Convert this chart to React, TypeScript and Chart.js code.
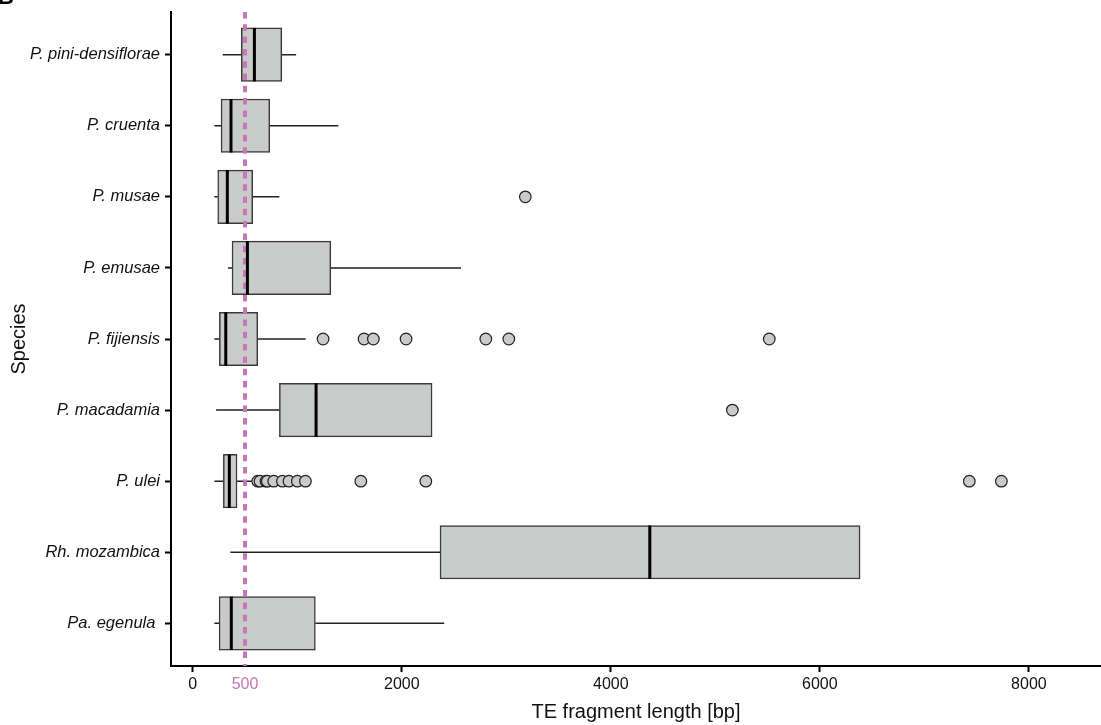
import React, { useEffect, useRef } from "react";
import { Chart, registerables } from "chart.js";

Chart.register(...registerables);

const CATEGORIES = [
  "P. pini-densiflorae",
  "P. cruenta",
  "P. musae",
  "P. emusae",
  "P. fijiensis",
  "P. macadamia",
  "P. ulei",
  "Rh. mozambica",
  "Pa. egenula ",
];
const WHISKER_LOW = [287, 207, 207, 338, 207, 223, 207, 360, 207];
const Q1 = [465, 271, 239, 376, 255, 829, 293, 2366, 252];
const MEDIAN = [590, 366, 331, 523, 316, 1180, 350, 4373, 369];
const Q3 = [852, 737, 574, 1321, 622, 2290, 424, 6385, 1173];
const WHISKER_HIGH = [989, 1393, 829, 2567, 1081, 2290, 580, 6385, 2406];
const OUTLIERS: number[][] = [
  [],
  [],
  [3182],
  [],
  [1247, 1639, 1728, 2041, 2804, 3024, 5516],
  [5163],
  [622, 644, 701, 714, 775, 858, 921, 1001, 1078, 1608, 2230, 7430, 7737],
  [],
  [],
];
const X_TICKS = [0, 500, 2000, 4000, 6000, 8000];
const REF_VALUE = 500;

const PINK = "#C776B6";
const FONT = "'Liberation Sans', Arial, Helvetica, sans-serif";

export default function App() {
  const canvasRef = useRef<HTMLCanvasElement | null>(null);

  useEffect(() => {
    document.body.style.margin = "0";
    const canvas = canvasRef.current;
    if (!canvas) return;

    const boxData = CATEGORIES.map((_, i) => ({ y: i + 1, x: [Q1[i], Q3[i]] }));
    const whiskerData: any[] = [];
    CATEGORIES.forEach((_, i) => {
      whiskerData.push({ x: WHISKER_LOW[i], y: i + 1 });
      whiskerData.push({ x: Q1[i], y: i + 1 });
      whiskerData.push({ x: null, y: null });
      whiskerData.push({ x: Q3[i], y: i + 1 });
      whiskerData.push({ x: WHISKER_HIGH[i], y: i + 1 });
      whiskerData.push({ x: null, y: null });
    });
    const outlierData: any[] = [];
    OUTLIERS.forEach((arr, i) => arr.forEach((v) => outlierData.push({ x: v, y: i + 1 })));

    const overlay = {
      id: "boxOverlay",
      afterDatasetsDraw(chart: any) {
        const ctx = chart.ctx;
        const xs = chart.scales.x;
        const { top, bottom } = chart.chartArea;
        ctx.save();
        const px = xs.getPixelForValue(REF_VALUE);
        ctx.strokeStyle = PINK;
        ctx.lineWidth = 4;
        ctx.setLineDash([6.5, 5.8]);
        ctx.beginPath();
        ctx.moveTo(px, top);
        ctx.lineTo(px, bottom);
        ctx.stroke();
        ctx.setLineDash([]);
        const meta = chart.getDatasetMeta(0);
        ctx.strokeStyle = "#000";
        ctx.lineWidth = 3;
        meta.data.forEach((el: any, i: number) => {
          const mx = xs.getPixelForValue(MEDIAN[i]);
          const h = el.height;
          ctx.beginPath();
          ctx.moveTo(mx, el.y - h / 2);
          ctx.lineTo(mx, el.y + h / 2);
          ctx.stroke();
        });
        ctx.restore();
      },
      afterDraw(chart: any) {
        const ctx = chart.ctx;
        ctx.save();
        ctx.fillStyle = "#000";
        ctx.font = `bold 22px ${FONT}`;
        ctx.textBaseline = "alphabetic";
        ctx.fillText("B", -2, 4);
        ctx.restore();
      },
    };

    const chart = new Chart(canvas, {
      type: "bar",
      data: {
        datasets: [
          {
            type: "bar",
            data: boxData as any,
            backgroundColor: "#C9CBCA",
            borderColor: "#3a3a3a",
            borderWidth: 1.5,
            borderSkipped: false,
            barThickness: 53.5,
            order: 2,
          } as any,
          {
            type: "line",
            data: whiskerData,
            borderColor: "#222",
            borderWidth: 1.5,
            pointRadius: 0,
            spanGaps: false,
            fill: false,
            order: 3,
          } as any,
          {
            type: "scatter",
            data: outlierData,
            backgroundColor: "#C9CBCA",
            borderColor: "#222",
            borderWidth: 1.2,
            pointRadius: 5.8,
            order: 1,
          } as any,
        ],
      },
      options: {
        indexAxis: "y",
        responsive: false,
        animation: false,
        devicePixelRatio: 1,
        layout: { autoPadding: false, padding: { top: 12, right: 0, left: 0, bottom: 0 } },
        plugins: {
          legend: { display: false },
          tooltip: { enabled: false },
        },
        scales: {
          x: {
            type: "linear",
            position: "bottom",
            offset: false,
            min: -208,
            max: 8690,
            afterBuildTicks: (scale: any) => {
              scale.ticks = X_TICKS.map((v) => ({ value: v }));
            },
            afterFit: (scale: any) => {
              scale.height = 59;
              scale.paddingLeft = 0;
              scale.paddingRight = 0;
            },
            border: { display: true, color: "#000", width: 2 },
            grid: {
              offset: false,
              drawOnChartArea: false,
              drawTicks: true,
              tickLength: 6,
              tickWidth: 2,
              tickColor: (ctx: any) =>
                ctx.tick && ctx.tick.value === REF_VALUE ? "rgba(0,0,0,0)" : "#000",
            },
            ticks: {
              autoSkip: false,
              maxRotation: 0,
              padding: 3,
              font: { family: FONT, size: 16 },
              color: (ctx: any) => (ctx.tick && ctx.tick.value === REF_VALUE ? PINK : "#111"),
              callback: (v: any) => String(v),
            },
            title: {
              display: true,
              text: "TE fragment length [bp]",
              font: { family: FONT, size: 20 },
              color: "#111",
              padding: { top: 0, bottom: 1 },
            },
          },
          y: {
            type: "linear",
            position: "left",
            offset: false,
            reverse: true,
            min: 0.4,
            max: 9.6,
            afterBuildTicks: (scale: any) => {
              scale.ticks = CATEGORIES.map((_, i) => ({ value: i + 1 }));
            },
            afterFit: (scale: any) => {
              scale.width = 171;
              scale.paddingTop = 0;
              scale.paddingBottom = 0;
            },
            border: { display: true, color: "#000", width: 2 },
            grid: {
              offset: false,
              drawOnChartArea: false,
              drawTicks: true,
              tickLength: 6,
              tickWidth: 2,
              tickColor: "#000",
            },
            ticks: {
              autoSkip: false,
              padding: 5,
              font: { family: FONT, size: 16.5, style: "italic" },
              color: "#111",
              callback: (v: any) => CATEGORIES[Math.round(Number(v)) - 1] ?? "",
            },
            title: {
              display: true,
              text: "Species",
              font: { family: FONT, size: 20 },
              color: "#111",
              padding: { top: 7, bottom: 0 },
            },
          },
        },
      } as any,
      plugins: [overlay],
    });

    return () => {
      chart.destroy();
    };
  }, []);

  return (
    <div style={{ position: "relative", width: 1101, height: 725 }}>
      <canvas ref={canvasRef} width={1101} height={725} style={{ display: "block" }} />
    </div>
  );
}
